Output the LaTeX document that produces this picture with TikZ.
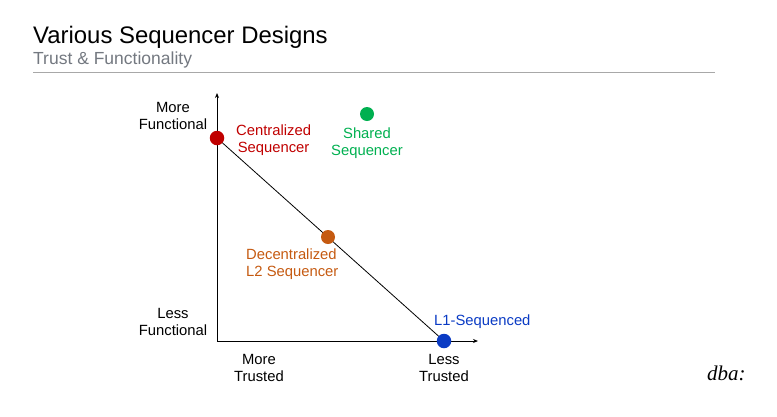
\documentclass[tikz,border=0pt]{standalone}
\usepackage{fontspec}
\setmainfont{Liberation Sans}
\newfontfamily\logofont{Liberation Serif}
\usepackage{tikz}
\usetikzlibrary{arrows.meta, positioning, backgrounds}

\definecolor{centred}{HTML}{C00000}
\definecolor{sharedgreen}{HTML}{00B050}
\definecolor{decorange}{HTML}{C55A11}
\definecolor{lonblue}{HTML}{0A3BC4}
\definecolor{subgray}{HTML}{737880}
\definecolor{rulegray}{HTML}{A8A8A8}

\begin{document}
\begin{tikzpicture}[
        x=1pt, y=-1pt,
        dot/.style={
            circle,
            inner sep=0pt,
            minimum size=14.5pt
        },
        lbl/.style={
            align=center,
            inner sep=0pt,
            font=\fontsize{14.8}{17}\selectfont
        },
        axis/.style={-{Stealth[length=5pt, width=4pt]}, line width=1pt},
        every label/.style={font=\footnotesize}
    ]
    \useasboundingbox (0,0) rectangle (777,416);

    % Heading
    \node[anchor=base west, inner sep=0pt, font=\fontsize{23.9}{28}\selectfont] (title) at (33,43) {Various Sequencer Designs};
    \node[anchor=base west, inner sep=0pt, text=subgray, font=\fontsize{17.5}{21}\selectfont] (subtitle) at (33,64) {Trust \& Functionality};
    \coordinate (rulel) at (33,72);
    \coordinate (ruler) at (715,72);
    \draw[rulegray, line width=1pt] (rulel) -- (ruler);

    % Axes
    \coordinate (origin) at (217,341);
    \coordinate (ytip) at (217,93);
    \coordinate (xtip) at (478,341);
    \draw[axis] (origin) -- (ytip);
    \draw[axis] (origin) -- (xtip);

    % Sequencer dots
    \node[dot, fill=centred] (central) at (217,138) {};
    \node[dot, fill=decorange, minimum size=14pt] (decent) at (328,237) {};
    \node[dot, fill=lonblue] (lone) at (444,341) {};
    \node[dot, fill=sharedgreen, minimum size=14pt] (shared) at (367,114) {};

    % Trade-off line (behind the dots)
    \begin{scope}[on background layer]
        \draw[line width=0.8pt] (central.center) -- (lone.center);
    \end{scope}

    % Dot labels
    \node[lbl, text=centred, right=11.5pt of central, yshift=-2pt] (centlbl) {Centralized\\Sequencer};
    \node[lbl, text=sharedgreen, below=6pt of shared] (sharedlbl) {Shared\\Sequencer};
    \node[lbl, text=decorange, align=left, anchor=west] (decentlbl) at (246,264) {Decentralized\\L2 Sequencer};
    \node[lbl, text=lonblue, anchor=base west] (lonelbl) at (434,325) {L1-Sequenced};

    % Axis labels
    \node[lbl] (morefunc) at (173,116) {More\\Functional};
    \node[lbl] (lessfunc) at (173,322) {Less\\Functional};
    \node[lbl] (moretrust) at (259,368) {More\\Trusted};
    \node[lbl] (lesstrust) at (444,368) {Less\\Trusted};

    % Logo
    \node[anchor=base west, inner sep=0pt, font=\logofont\itshape\fontsize{21}{24}\selectfont] (logo) at (707,380) {dba:};

\end{tikzpicture}
\end{document}
